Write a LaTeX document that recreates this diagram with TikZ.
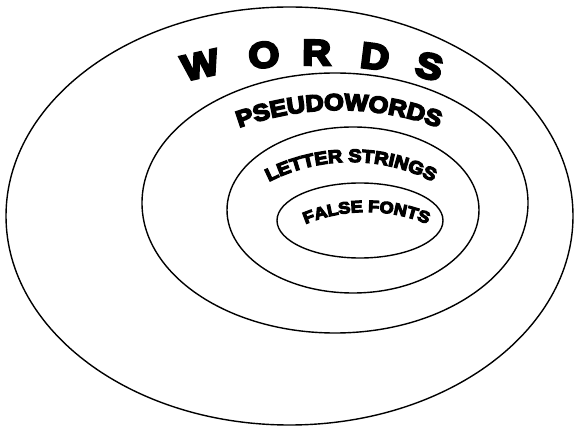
\documentclass[tikz,border=0pt]{standalone}
\usepackage{fontspec}
\usetikzlibrary{shapes.geometric,decorations.text,calc}
\newfontfamily\heavy[FakeStretch=1.1,FakeBold=7]{Liberation Sans Bold}
\begin{document}
\begin{tikzpicture}[x=1pt,y=1pt,
  ring/.style={draw=black,line width=1.4pt,ellipse,inner sep=0pt,fill=none},
  bigletter/.style={anchor=base,inner sep=0pt,font=\heavy\fontsize{36}{40}\selectfont}]
\useasboundingbox[fill=white] (0,0) rectangle (575,431);
% nested ellipses (y up: 431 - pixel row)
\node[ring,minimum width=567pt,minimum height=418pt] (words) at (289.5,215) {};
\node[ring,minimum width=386pt,minimum height=260pt] (pseudo) at (335,228) {};
\node[ring,minimum width=252pt,minimum height=166pt] (letters) at (353,221) {};
\node[ring,minimum width=166pt,minimum height=75pt] (false) at (360,210.5) {};
% WORDS, letter by letter on an arc
\coordinate (wc) at (312,-134);
\node[bigletter,rotate=12.59] (w1) at ($(wc)+(102.59:500pt)$) {W};
\node[bigletter,rotate=5.39] (w2) at ($(wc)+(95.39:500pt)$) {O};
\node[bigletter,rotate=-0.52] (w3) at ($(wc)+(89.48:500pt)$) {R};
\node[bigletter,rotate=-7.07] (w4) at ($(wc)+(82.93:500pt)$) {D};
\node[bigletter,rotate=-13.24] (w5) at ($(wc)+(76.76:500pt)$) {S};
% PSEUDOWORDS
\path[decorate,decoration={text along path,text align=center,
  text={|\heavy\fontsize{23}{25}\selectfont|PSEUDOWORDS}}]
  ($(339,31)+(130:290pt)$) arc[start angle=130,end angle=50,radius=290pt];
% LETTER STRINGS
\path[decorate,decoration={text along path,text align=center,
  text={|\heavy\fontsize{18}{20}\selectfont|LETTER STRINGS}}]
  ($(351,89)+(150:180pt)$) arc[start angle=150,end angle=30,radius=180pt];
% FALSE FONTS
\path[decorate,decoration={text along path,text align=center,
  text={|\heavy\fontsize{16.4}{18}\selectfont|FALSE FONTS}}]
  ($(366.5,59)+(140:160pt)$) arc[start angle=140,end angle=40,radius=160pt];
\end{tikzpicture}
\end{document}
